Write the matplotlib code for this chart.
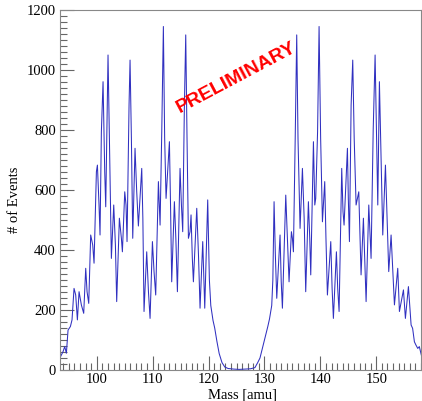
import numpy as np
import matplotlib
matplotlib.use("Agg")
import matplotlib.pyplot as plt
from matplotlib.ticker import MultipleLocator

# Mass spectrum (mass in amu, counts per bin)
mass_left = [93.38, 93.97, 94.27, 94.57, 94.87, 95.29, 95.58, 95.94, 96.24, 96.54,
             96.84, 97.25, 97.67, 98.03, 98.27, 98.57, 98.92, 99.28, 99.52, 99.94,
             100.12, 100.41, 100.59, 100.83, 101.13, 101.43, 101.61, 102.02, 102.32, 102.62,
             103.04, 103.34, 103.57, 104.05, 104.41, 104.59, 105.01, 105.24, 105.42, 105.78,
             105.96, 106.2, 106.44, 106.85, 107.15, 107.45, 108.05, 108.25, 108.46, 108.94,
             109.25, 109.54, 109.96, 110.25, 110.55, 111.03, 111.33, 111.63, 111.92, 112.15,
             112.4, 113.0, 113.2, 113.41, 113.89, 114.15, 114.43, 114.9, 115.15, 115.38,
             115.68, 115.92, 116.15, 116.4, 116.69, 116.87, 117.1, 117.29, 117.89, 118.2,
             118.48, 118.96, 119.32, 119.85, 120.15, 120.4, 120.8, 121.1, 121.5, 121.9,
             122.4, 122.9, 123.5, 124.5, 125.5]
counts_left = [39, 61, 78, 56, 133, 145, 167, 272, 250, 167,
               261, 217, 189, 339, 261, 222, 450, 417, 356, 661,
               683, 550, 450, 794, 961, 661, 544, 1050, 717, 372,
               550, 417, 228, 506, 439, 394, 594, 550, 428, 883,
               1033, 772, 439, 739, 595, 480, 672, 506, 195, 394,
               261, 172, 428, 328, 250, 628, 483, 794, 1145, 772,
               572, 761, 550, 294, 561, 439, 261, 672, 550, 461,
               883, 1117, 772, 439, 461, 517, 372, 294, 539, 383,
               206, 428, 206, 567, 300, 215, 165, 140, 95, 55,
               25, 10, 5, 3, 2]

mass_right = [126.5, 127.5, 128.3, 128.8, 129.2, 129.6, 130.2, 130.6, 130.9, 131.3,
              131.5, 131.72, 131.95, 132.2, 132.79, 133.0, 133.21, 133.81, 134.1, 134.4,
              134.82, 135.0, 135.18, 135.5, 135.77, 136.0, 136.37, 136.79, 137.1, 137.38,
              137.86, 138.1, 138.28, 138.76, 139.0, 139.17, 139.5, 139.77, 140.05, 140.37,
              140.78, 141.0, 141.26, 141.86, 142.1, 142.33, 142.87, 143.1, 143.35, 143.82,
              144.05, 144.24, 144.84, 145.0, 145.2, 145.5, 145.79, 146.05, 146.39, 146.87,
              147.28, 147.7, 148.18, 148.66, 149.07, 149.45, 149.79, 150.27, 150.56, 151.16,
              151.64, 152.23, 152.65, 153.25, 153.84, 154.14, 154.86, 155.21, 155.75, 156.23,
              156.5, 156.82, 157.1, 157.42, 157.7, 158.2]
counts_right = [3, 4, 8, 25, 40, 70, 115, 145, 170, 215,
                300, 561, 383, 239, 450, 294, 206, 583, 439, 294,
                461, 439, 394, 772, 1117, 772, 472, 672, 506, 261,
                561, 439, 317, 761, 550, 572, 794, 1145, 772, 494,
                628, 439, 250, 428, 272, 172, 394, 272, 195, 672,
                528, 483, 739, 572, 428, 883, 1033, 772, 550, 594,
                317, 506, 228, 550, 372, 800, 1050, 550, 961, 450,
                683, 328, 450, 217, 339, 195, 267, 172, 278, 150,
                139, 94, 83, 72, 78, 39]

mass = np.array(mass_left + mass_right)
counts = np.array(counts_left + counts_right)

plt.rcParams['font.family'] = ['Liberation Serif', 'DejaVu Serif']

fig = plt.figure(figsize=(4.22, 4.01), dpi=100)
ax = fig.add_axes([60 / 422, 1 - 370 / 401, 361 / 422, 360 / 401])

ax.plot(mass, counts, color='#3030c0', lw=0.75)

ax.set_xlim(93.43, 158.0)
ax.set_ylim(0, 1200)

ax.xaxis.set_major_locator(MultipleLocator(10))
ax.xaxis.set_minor_locator(MultipleLocator(1))
ax.yaxis.set_major_locator(MultipleLocator(200))
ax.yaxis.set_minor_locator(MultipleLocator(20))
ax.tick_params(which='both', direction='in', colors='#666666', labelcolor='black',
               labelsize=10.5, top=False, right=False)
ax.tick_params(which='major', length=10, width=0.8)
ax.tick_params(which='minor', length=5, width=0.8)
ax.tick_params(axis='x', pad=2)
ax.tick_params(axis='y', pad=3)
for s in ax.spines.values():
    s.set_color('#888888')
    s.set_linewidth(0.8)

fig.text(242 / 422, 1 - 395 / 401, 'Mass [amu]', ha='center', va='center', fontsize=10.5)
fig.text(14 / 422, 1 - 200 / 401, '# of Events', ha='center', va='center',
         rotation=90, fontsize=10.5)

ax.text(124.9, 975, 'PRELIMINARY', color='red', fontsize=14, fontweight='bold',
        family='Liberation Sans', rotation=28, rotation_mode='anchor',
        ha='center', va='center')

fig.savefig('out.png', dpi=100)
